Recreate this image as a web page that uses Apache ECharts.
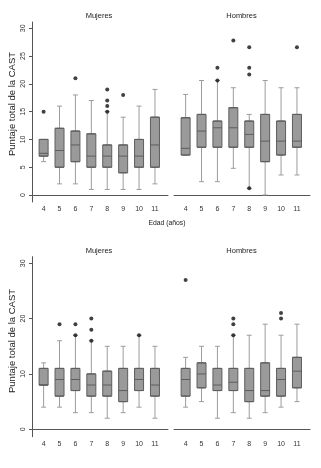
<!DOCTYPE html>
<html><head><meta charset="utf-8">
<script src="https://cdn.jsdelivr.net/npm/echarts@6/dist/echarts.min.js"></script>
<style>html,body{margin:0;padding:0;background:#fff}#c{width:321px;height:468px}</style>
</head><body><div id="c"></div>
<script>
const ages = [4, 5, 6, 7, 8, 9, 10, 11];
const yTicksTop = [0, 5, 10, 15, 20, 25, 30];
const yTicksBottom = [0, 10, 20, 30];
const panelTitles = ['Mujeres', 'Hombres'];
const yTitle = 'Puntaje total de la CAST';
const xTitle = 'Edad (años)';

// [min, Q1, median, Q3, max] per age
const topMujeres = [
  [6, 7, 7.5, 10, 10], [2, 5, 8, 12, 16], [2, 6, 9, 11.5, 18], [1, 5, 7, 11, 17],
  [1, 5, 7, 9, 15], [1, 4, 7, 9, 14], [1, 5, 7, 10, 16], [2, 5, 9, 14, 19]
];
const topHombres = [
  [7.2, 7.2, 8.4, 13.9, 18.1], [2.4, 8.6, 11.5, 14.5, 20.6], [2.4, 8.6, 12.1, 13.3, 20.6], [4.8, 8.6, 12.1, 15.7, 19.3],
  [1.2, 8.6, 10.9, 13.3, 14.5], [0, 6.0, 9.7, 14.5, 20.6], [3.6, 7.2, 9.7, 13.3, 19.3], [3.6, 8.6, 9.7, 14.5, 19.3]
];
const bottomMujeres = [
  [4, 8, 8, 11, 12], [4, 6, 9, 11, 16], [3, 7, 9, 11, 17], [3, 6, 8, 10, 16],
  [2, 6, 8, 10.5, 15], [3, 5, 7, 11, 15], [4, 7, 9, 11, 17], [2, 6, 8, 11, 15]
];
const bottomHombres = [
  [4, 6, 9, 11, 13], [5, 7.5, 10, 12, 15], [2, 7, 8, 11, 15], [3, 7, 8.5, 11, 17],
  [2, 5, 7, 11, 17], [3, 6, 7, 12, 19], [4, 6, 9, 11, 17], [5, 7.5, 10.5, 13, 19]
];
// outliers [age, value]
const topMujeresOut = [[4, 15], [6, 21], [8, 15], [8, 16], [8, 17], [8, 19], [9, 18]];
const topHombresOut = [[6, 20.6], [6, 22.9], [7, 27.8], [8, 1.2], [8, 21.7], [8, 22.9], [8, 26.6], [11, 26.6]];
const bottomMujeresOut = [[5, 19], [6, 17], [6, 19], [7, 16], [7, 18], [7, 20], [10, 17]];
const bottomHombresOut = [[4, 27], [7, 17], [7, 19], [7, 20], [10, 20], [10, 21]];

const FONT = 'Liberation Sans, Arial, sans-serif';
const panels = [
  { box: topMujeres, out: topMujeresOut, left: 32, top: 22, ymin: -1.26, ymax: 31.13, ticks: yTicksTop, showY: true },
  { box: topHombres, out: topHombresOut, left: 174, top: 22, ymin: -1.26, ymax: 31.13, ticks: yTicksTop, showY: false },
  { box: bottomMujeres, out: bottomMujeresOut, left: 32, top: 256.7, ymin: -1.34, ymax: 31.19, ticks: yTicksBottom, showY: true },
  { box: bottomHombres, out: bottomHombresOut, left: 174, top: 256.7, ymin: -1.34, ymax: 31.19, ticks: yTicksBottom, showY: false }
];
const XMIN = 3.27, XMAX = 11.82;

const grid = [], xAxis = [], yAxis = [], series = [];
panels.forEach((p, i) => {
  grid.push({ left: p.left, top: p.top, width: 136, height: 180 });
  xAxis.push({
    type: 'value', gridIndex: i, min: XMIN, max: XMAX,
    axisLine: { show: true, lineStyle: { color: '#555', width: 1 } },
    axisTick: { show: false }, splitLine: { show: false },
    axisLabel: { customValues: ages, fontSize: 7, color: '#333', margin: 4, fontFamily: FONT }
  });
  yAxis.push({
    type: 'value', gridIndex: i, min: p.ymin, max: p.ymax, show: p.showY,
    axisLine: { show: true, lineStyle: { color: '#555', width: 1 } },
    axisTick: { show: true, length: 3, customValues: p.ticks, lineStyle: { color: '#555' } },
    splitLine: { show: false },
    axisLabel: { customValues: p.ticks, rotate: 90, fontSize: 7, color: '#333', margin: 5, fontFamily: FONT }
  });
});
// hidden twin axes for the whisker layer (so boxplot series are not dodged)
panels.forEach((p, i) => {
  xAxis.push({ type: 'value', gridIndex: i, min: XMIN, max: XMAX, show: false, splitLine: { show: false } });
  yAxis.push({ type: 'value', gridIndex: i, min: p.ymin, max: p.ymax, show: false, splitLine: { show: false } });
});
panels.forEach((p, i) => {
  series.push({
    type: 'boxplot', xAxisIndex: i + 4, yAxisIndex: i + 4, layout: 'horizontal', z: 2,
    boxWidth: [5, 5],
    itemStyle: { color: '#9a9a9a', borderColor: '#9c9c9c', borderWidth: 1 },
    data: ages.map((a, k) => [a].concat(p.box[k])),
    silent: true
  });
  series.push({
    type: 'boxplot', xAxisIndex: i, yAxisIndex: i, layout: 'horizontal', z: 3,
    boxWidth: [9, 9],
    itemStyle: { color: '#9a9a9a', borderColor: '#5e5e5e', borderWidth: 1 },
    data: ages.map((a, k) => [a, p.box[k][1], p.box[k][1], p.box[k][2], p.box[k][3], p.box[k][3]]),
    silent: true
  });
  series.push({
    type: 'scatter', xAxisIndex: i, yAxisIndex: i, z: 4,
    symbolSize: 4, itemStyle: { color: '#111' },
    data: p.out, silent: true
  });
});

const txt = (text, x, y, size, rot) => ({
  type: 'text', x: x, y: y, rotation: rot || 0,
  style: { text: text, fontSize: size, fill: '#222', align: 'center', verticalAlign: 'middle', fontFamily: FONT }
});

const chart = echarts.init(document.getElementById('c'), null, { renderer: 'canvas' });
chart.setOption({
  backgroundColor: '#fff',
  animation: false,
  grid, xAxis, yAxis, series,
  graphic: [
    txt(panelTitles[0], 99, 15.7, 7.5), txt(panelTitles[1], 241.5, 15.7, 7.5),
    txt(panelTitles[0], 99, 250.5, 7.5), txt(panelTitles[1], 241.5, 250.5, 7.5),
    txt(xTitle, 167, 222.7, 6.8),
    txt(yTitle, 12.7, 104, 9.5, Math.PI / 2),
    txt(yTitle, 12.7, 341, 9.5, Math.PI / 2)
  ]
});
</script></body></html>
